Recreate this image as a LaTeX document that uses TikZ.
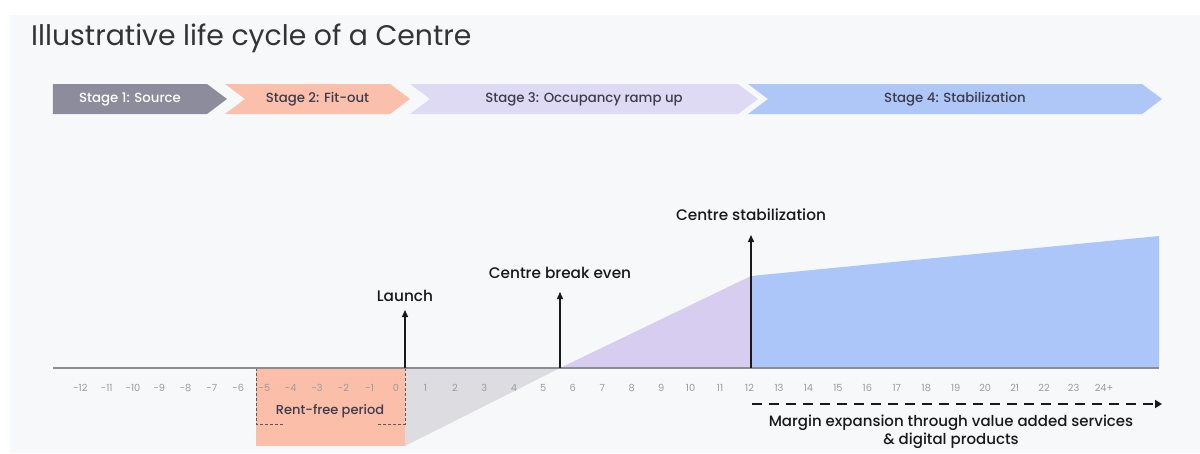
\documentclass[tikz,border=0pt]{standalone}
\usepackage{fontspec}
\setmainfont{Poppins}
\newfontfamily\medfont{Poppins Medium}
\usetikzlibrary{shapes.symbols, positioning, arrows.meta}

\definecolor{bgpanel}{HTML}{F7F8FA}
\definecolor{titlegray}{HTML}{333338}
\definecolor{stageone}{HTML}{8C8C9C}
\definecolor{stagetwo}{HTML}{FBC0AC}
\definecolor{stagethree}{HTML}{DEDAF4}
\definecolor{stagefour}{HTML}{AFC7F7}
\definecolor{stagetext}{HTML}{3C3C4C}
\definecolor{rampfill}{HTML}{D6CDF0}
\definecolor{stablefill}{HTML}{ADC6FA}
\definecolor{rentfree}{HTML}{FBBEA9}
\definecolor{shadowgray}{HTML}{DCDCE1}
\definecolor{tickgray}{HTML}{9A9AA2}
\definecolor{axisgray}{HTML}{8C8C96}

\begin{document}
\begin{tikzpicture}[
        x=1pt, y=-1pt,
        chevron/.style={signal, signal to=east, signal pointer angle=74, minimum height=30pt, inner sep=0pt, font=\medfont\fontsize{13.3}{16}\selectfont, text=stagetext},
        notched/.style={chevron, signal from=west},
        tick/.style={inner sep=0pt, font=\fontsize{9.8}{12}\selectfont, text=tickgray},
        milestone/.style={inner sep=0pt, font=\medfont\fontsize{15.3}{19}\selectfont, text=black!90},
        marker/.style={-{Triangle[width=6pt,length=7pt]}, line width=1.4pt, black!90},
        bracket/.style={densely dashed, line width=0.8pt, black!65},
        marginarrow/.style={-{Triangle[width=8pt,length=7pt]}, line width=2.4pt, dash pattern=on 10pt off 7pt, black!90}
    ]
%
    % Frame
    \useasboundingbox (0,0) rectangle (1200,453);
    \fill[bgpanel] (10,15) rectangle (1200,453);
    \node[anchor=base west, inner sep=0pt, font=\fontsize{28.3}{34}\selectfont, text=titlegray] (title) at (31,45) {Illustrative life cycle of a Centre};
%
    % Stages
    \node[chevron, fill=stageone, text=white, minimum width=174pt] (source) at (130,99) {Stage 1: Source};
    \node[notched, fill=stagetwo, minimum width=185pt] (fitout) at (317.5,99) {Stage 2: Fit-out};
    \node[notched, fill=stagethree, minimum width=348pt] (rampup) at (584,99) {Stage 3: Occupancy ramp up};
    \node[notched, fill=stagefour, minimum width=414pt] (stable) at (955,99) {Stage 4: Stabilization};
%
    % Areas
    \fill[shadowgray] (405,368) -- (560,368) -- (405,446) -- cycle;
    \node[fill=rentfree, anchor=north west, minimum width=149pt, minimum height=78pt, inner sep=0pt] (rentbox) at (256,368) {};
    \fill[rampfill] (560,368) -- (751,276) -- (751,368) -- cycle;
    \fill[stablefill] (751,276) -- (1159,236) -- (1159,368) -- (751,368) -- cycle;
    \draw[bracket] (rentbox.north west) -- ++(0,56) -- ++(27,0);
    \draw[bracket] (rentbox.north east) -- ++(0,56) -- ++(-27,0);
    \node[inner sep=0pt, font=\medfont\fontsize{13}{16}\selectfont, text=stagetext] (renttext) at (330,411) {Rent-free period};
%
    % Time axis
    \coordinate (axisL) at (53,368);
    \coordinate (axisR) at (1159,368);
    \draw[axisgray, line width=1.3pt] (axisL) -- (axisR);
    \foreach \n in {1,...,12}
        \node[tick] (neg\n) at ({396-26.3*\n},388) {-\n};
    \foreach \n in {0,...,23}
        \node[tick] (pos\n) at ({396+29.46*\n},388) {\n};
    \node[tick] (pos24) at (1104,388) {24+};
%
    % Milestones
    \coordinate (launchB) at (405,368);
    \coordinate (launchT) at (405,310);
    \coordinate (evenB) at (560,368);
    \coordinate (evenT) at (560,292);
    \coordinate (stabB) at (751,368);
    \coordinate (stabT) at (751,235);
    \draw[marker] (launchB) -- (launchT);
    \draw[marker] (evenB) -- (evenT);
    \draw[marker] (stabB) -- (stabT);
    \node[milestone, above=8pt of launchT] (launch) {Launch};
    \node[milestone, above=13pt of evenT] (breakeven) {Centre break even};
    \node[milestone, above=14pt of stabT] (stabilization) {Centre stabilization};
%
    % Margin expansion
    \coordinate (mstart) at (752,404);
    \coordinate (mend) at (1162,404);
    \draw[marginarrow] (mstart) -- (mend);
    \node[anchor=north, inner sep=0pt, align=center, font=\medfont\fontsize{15}{18}\selectfont, text=black!90] (margin) at (951,415) {Margin expansion through value added services\\\& digital products};
%
\end{tikzpicture}
\end{document}
